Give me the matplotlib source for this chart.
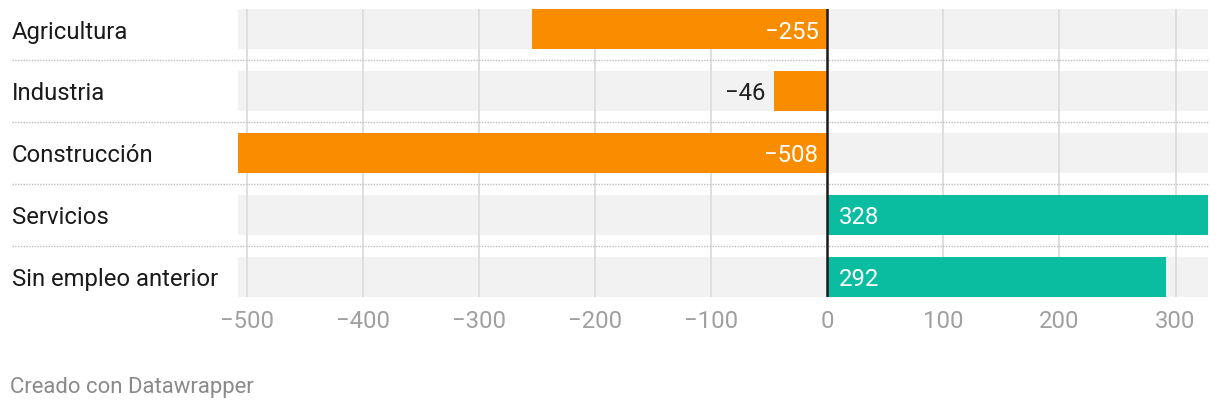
import matplotlib
matplotlib.use("Agg")
import matplotlib.pyplot as plt
import matplotlib.transforms as mtransforms

categories = ["Agricultura", "Industria", "Construcción", "Servicios", "Sin empleo anterior"]
values = [-255, -46, -508, 328, 292]
ticks = [-500, -400, -300, -200, -100, 0, 100, 200, 300]
tick_labels = ["\u2212500", "\u2212400", "\u2212300", "\u2212200", "\u2212100", "0", "100", "200", "300"]
xmin, xmax = -508, 328

ORANGE = "#fa8c00"
TEAL = "#0bbda0"
BG = "#f2f2f2"

plt.rcParams['font.family'] = ['Roboto', 'DejaVu Sans']

W, H = 1220, 410
FS = 17.2
fig = plt.figure(figsize=(W / 100, H / 100), dpi=100)
ax = fig.add_axes([238 / W, (H - 298) / H, (1208 - 238) / W, (298 - 10) / H])

n = len(categories)
half = 20.5 / 62
ax.set_xlim(xmin, xmax)
ax.set_ylim(n - 1 + half, -half)
bh = 40 / 62
ys = list(range(n))

# background bars
ax.barh(ys, [xmax - xmin] * n, left=xmin, height=bh, color=BG, zorder=1)
# grid
for t in ticks:
    if t != 0:
        ax.axvline(t, color="#dcdcdc", lw=1.3, zorder=2)
# bars
colors = [ORANGE if v < 0 else TEAL for v in values]
ax.barh(ys, values, height=bh, color=colors, zorder=3)
ax.axvline(0, color="#1a1a1a", lw=1.8, zorder=5)

def fmt(v):
    return ("\u2212" + str(abs(v))) if v < 0 else str(v)

dy = -1.2  # points, shift text slightly down
for y, v in zip(ys, values):
    if v < 0:
        if abs(v) > 100:
            ax.annotate(fmt(v), (0, y), xytext=(-6.5, dy), textcoords="offset points",
                        ha="right", va="center", color="white", fontsize=FS, zorder=6)
        else:
            ax.annotate(fmt(v), (v, y), xytext=(-6.5, dy), textcoords="offset points",
                        ha="right", va="center", color="#222222", fontsize=FS, zorder=6)
    else:
        ax.annotate(fmt(v), (0, y), xytext=(8, dy), textcoords="offset points",
                    ha="left", va="center", color="white", fontsize=FS, zorder=6)

# separators
trans = mtransforms.blended_transform_factory(fig.transFigure, ax.transData)
for i in range(n - 1):
    yy = i + 0.5
    ax.plot([12 / W, 1208 / W], [yy, yy], transform=trans, color="#bdbdbd",
            lw=1.0, ls=(0, (1, 1)), clip_on=False, zorder=4)

# category labels
for y, c in zip(ys, categories):
    ax.annotate(c, (12 / W, y), xycoords=trans, xytext=(0, dy), textcoords="offset points",
                ha="left", va="center", fontsize=FS, color="#1a1a1a")

ax.set_xticks(ticks)
ax.set_xticklabels(tick_labels, fontsize=FS, color="#a0a0a0")
ax.tick_params(axis="x", length=0, pad=9)
ax.set_yticks([])
for s in ax.spines.values():
    s.set_visible(False)

fig.text(10 / W, (H - 388) / H, "Creado con Datawrapper", ha="left", va="center",
         fontsize=15.9, color="#8a8a8a")

fig.savefig("out.png", dpi=100)
